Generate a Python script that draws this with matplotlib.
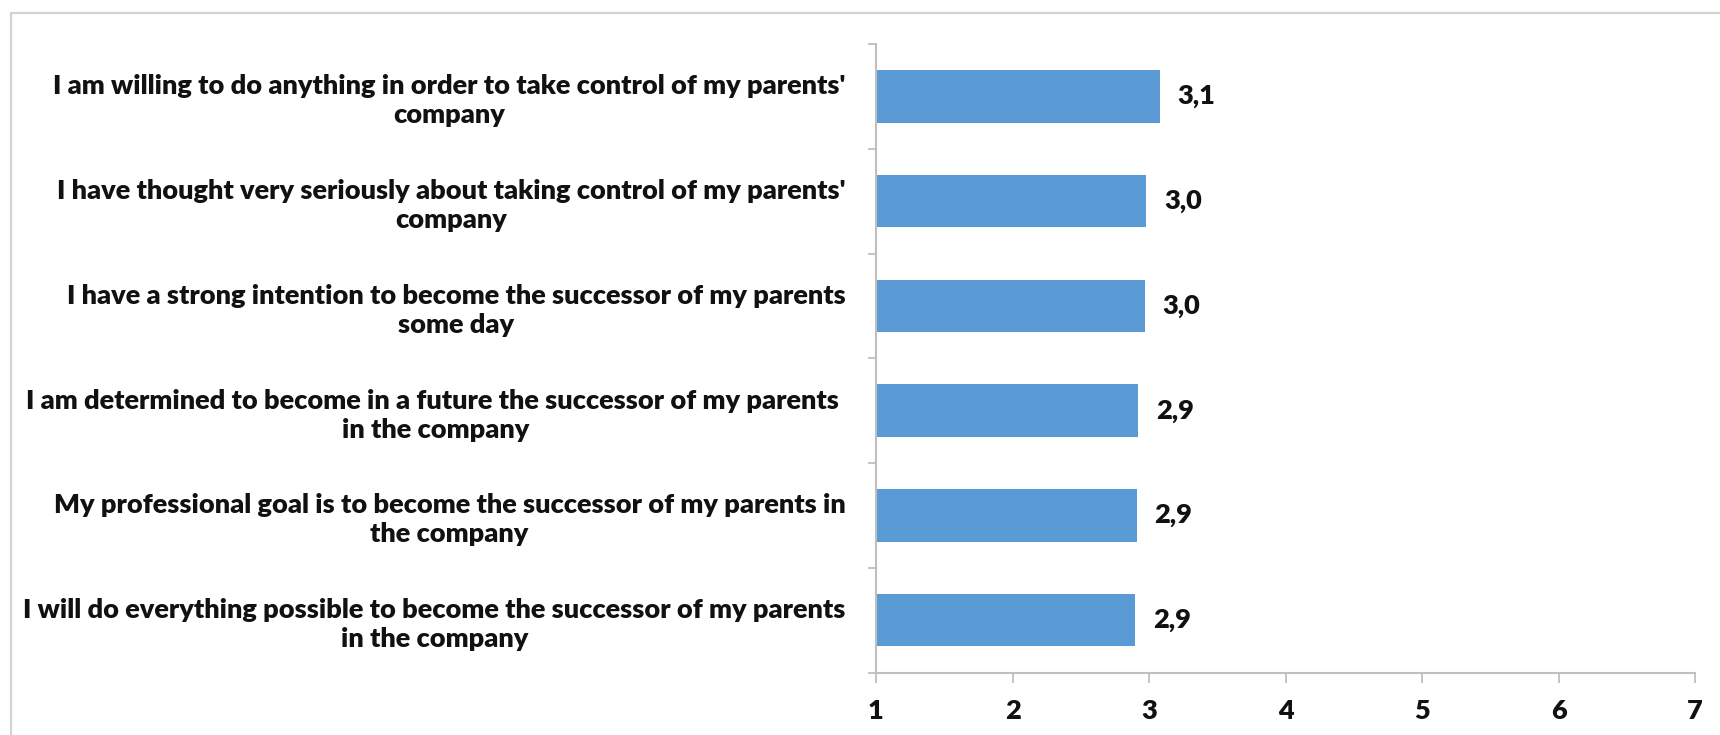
import numpy as np
import matplotlib.pyplot as plt
from matplotlib.patches import Rectangle

plt.rcParams['font.family'] = ['Lato', 'DejaVu Sans']

# survey items, top to bottom
statements = [
    "I am willing to do anything in order to take control of my parents'\ncompany",
    "I have thought very seriously about taking control of my parents'\ncompany",
    "I have a strong intention to become the successor of my parents\nsome day",
    "I am determined to become in a future the successor of my parents \nin the company",
    "My professional goal is to become the successor of my parents in\nthe company",
    "I will do everything possible to become the successor of my parents\nin the company",
]
mean_scores = [3.08, 2.98, 2.97, 2.92, 2.91, 2.90]
scale_ticks = [1, 2, 3, 4, 5, 6, 7]

bar_color = '#5B9BD5'
axis_grey = '#BFBFBF'
text_col = '#111111'
fs = 19.5
fw = 'heavy'

fig = plt.figure(figsize=(17.2, 7.35), dpi=100)
ax = fig.add_axes([0.5093, 0.085, 0.9855 - 0.5093, 0.855])

# outer chart frame
fig.patches.append(Rectangle((11 / 1720, -0.05), 1.2, 1 - 13 / 735 + 0.05,
                             transform=fig.transFigure, fill=False,
                             edgecolor='#D3D3D3', linewidth=1.6, zorder=0))

n = len(statements)
ypos = np.arange(n)[::-1]
bars = ax.barh(ypos, np.array(mean_scores) - 1, left=1, height=0.5,
               color=bar_color, edgecolor='none')

for b, v in zip(bars, mean_scores):
    ax.text(b.get_x() + b.get_width() + 0.13, b.get_y() + b.get_height() / 2,
            f'{v:.1f}'.replace('.', ','), va='center', ha='left',
            fontsize=fs, fontweight=fw, color=text_col)

ax.set_xlim(scale_ticks[0], scale_ticks[-1])
ax.set_ylim(-0.5, n - 0.5)

# x axis
ax.set_xticks(scale_ticks)
ax.set_xticklabels([str(t) for t in scale_ticks], fontsize=fs,
                   fontweight=fw, color=text_col)
ax.tick_params(axis='x', direction='out', length=7, width=1.3,
               color=axis_grey, pad=12)

# y axis: marks between categories, labels at centres
ax.set_yticks(np.arange(-0.5, n, 1.0))
ax.set_yticklabels([])
ax.tick_params(axis='y', which='major', direction='out', length=6,
               width=1.3, color=axis_grey)
ax.set_yticks(ypos, minor=True)
ax.set_yticklabels(statements, minor=True, fontsize=fs, fontweight=fw,
                   color=text_col, multialignment='center', linespacing=1.25)
ax.tick_params(axis='y', which='minor', length=0, pad=22)

for side in ['top', 'right']:
    ax.spines[side].set_visible(False)
for side in ['left', 'bottom']:
    ax.spines[side].set_color(axis_grey)
    ax.spines[side].set_linewidth(1.5)

fig.savefig('out.png', dpi=100)
